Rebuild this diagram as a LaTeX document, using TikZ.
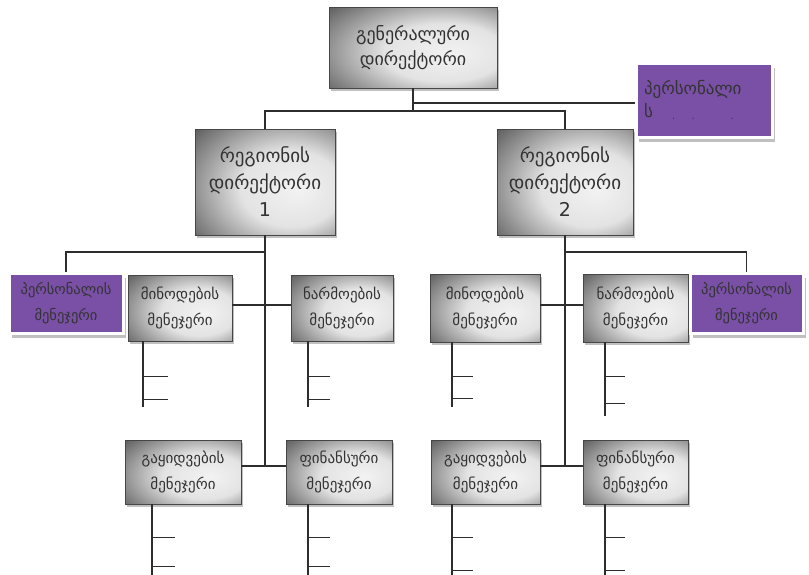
\documentclass[tikz,border=0pt]{standalone}
\usepackage{fontspec}
\setmainfont{DejaVu Sans}
\usetikzlibrary{shadows}
\definecolor{boxpurple}{RGB}{121,80,166}
\definecolor{linegray}{RGB}{45,45,45}
\definecolor{txtgray}{RGB}{50,50,50}
% soft metallic fill: light towards the right, dark at the corners
\pgfdeclareradialshading{metal}{\pgfpoint{12bp}{-4bp}}{%
  color(0bp)=(gray!10);
  color(18bp)=(gray!22);
  color(42bp)=(gray!55!black!90);
  color(62bp)=(gray!68!black);
  color(80bp)=(gray!72!black)}
\begin{document}
\begin{tikzpicture}[x=1pt,y=-1pt,
  conn/.style={draw=linegray,line width=1.8pt},
  graybox/.style={rectangle,draw=gray!55!black,line width=0.8pt,
    shading=metal,
    text=txtgray,align=center,inner sep=2pt,
    drop shadow={shadow xshift=2pt,shadow yshift=-3pt,fill=gray!55,opacity=0.9}},
  toptxt/.style={font=\fontsize{18}{25}\selectfont},
  bigtxt/.style={font=\fontsize{19}{27}\selectfont},
  smalltxt/.style={font=\fontsize{15}{26}\selectfont},
  purplebox/.style={rectangle,fill=boxpurple,draw=white,line width=3pt,
    text=black!80,align=center,inner sep=2pt,
    drop shadow={shadow xshift=3pt,shadow yshift=-5pt,fill=gray!55,opacity=0.9}}]
\useasboundingbox (0,0) rectangle (809,574);

% top level
\node[graybox,toptxt,minimum width=168pt,minimum height=81pt] (gd) at (413,47.5)
  {გენერალური\\დირექტორი};
\node[purplebox,minimum width=134pt,minimum height=74pt,
  align=left,anchor=north west,text width=120pt,inner xsep=8pt,inner ysep=8pt] (pers) at (634.5,61.5)
  {\fontsize{17}{23}\selectfont პერსონალი\\ს\\[-10pt]
   \fontsize{9}{9}\selectfont\hspace*{28pt}.\hspace{17pt}.\hspace{36pt}.};

% regional directors
\node[graybox,bigtxt,minimum width=140pt,minimum height=106pt] (r1) at (265,182)
  {რეგიონის\\დირექტორი\\1};
\node[graybox,bigtxt,minimum width=136pt,minimum height=106pt] (r2) at (565,182)
  {რეგიონის\\დირექტორი\\2};

% second row
\node[purplebox,font=\fontsize{14.5}{26}\selectfont,minimum width=114pt,minimum height=60pt] (p1) at (66,303)
  {პერსონალის\\მენეჯერი};
\node[graybox,smalltxt,minimum width=104pt,minimum height=66pt] (mn1) at (180,308)
  {მინოდების\\მენეჯერი};
\node[graybox,smalltxt,minimum width=102pt,minimum height=66pt] (nr1) at (342,308)
  {ნარმოების\\მენეჯერი};
\node[graybox,smalltxt,minimum width=110pt,minimum height=68pt] (mn2) at (485,308)
  {მინოდების\\მენეჯერი};
\node[graybox,smalltxt,minimum width=105pt,minimum height=68pt] (nr2) at (635.5,308)
  {ნარმოების\\მენეჯერი};
\node[purplebox,font=\fontsize{14.5}{26}\selectfont,minimum width=113pt,minimum height=60pt] (p2) at (746.5,303)
  {პერსონალის\\მენეჯერი};

% third row
\node[graybox,smalltxt,minimum width=116pt,minimum height=64pt] (gq1) at (183,472)
  {გაყიდვების\\მენეჯერი};
\node[graybox,smalltxt,minimum width=106pt,minimum height=64pt] (fn1) at (339,472)
  {ფინანსური\\მენეჯერი};
\node[graybox,smalltxt,minimum width=109pt,minimum height=64pt] (gq2) at (485.5,472)
  {გაყიდვების\\მენეჯერი};
\node[graybox,smalltxt,minimum width=105pt,minimum height=64pt] (fn2) at (635.5,472)
  {ფინანსური\\მენეჯერი};

% junction points
\coordinate (j0) at (413,111);
\coordinate (b1) at (265,252);
\coordinate (b2) at (565,252);
\coordinate (k1) at (265,466);
\coordinate (k2) at (565,466);

% top connectors
\draw[conn] (gd.south) -- (j0);
\draw[conn] (r1.north) |- (j0) -| (r2.north);
\draw[conn] ([yshift=-3pt]pers.west) -- ([yshift=-3pt]pers.west -| gd.south);

% regional trunks
\draw[conn] (r1.south) -- (k1);
\draw[conn] (r2.south) -- (k2);
\draw[conn] (p1.north) |- (b1);
\draw[conn] (p2.north) |- (b2);
\draw[conn] ([yshift=3pt]mn1.east) -- ([yshift=3pt]nr1.west);
\draw[conn] ([yshift=3pt]mn2.east) -- ([yshift=3pt]nr2.west);
\draw[conn] ([yshift=6pt]gq1.east) -- ([yshift=6pt]fn1.west);
\draw[conn] ([yshift=6pt]gq2.east) -- ([yshift=6pt]fn2.west);

% sub-branches under the managers
\draw[conn] ([xshift=15pt]mn1.south west) -- ++(0,66);
\draw[conn] ([xshift=15pt]mn1.south west) ++(0,35) -- ++(25,0) ++(-25,23) -- ++(25,0);
\draw[conn] ([xshift=17pt]nr1.south west) -- ++(0,66);
\draw[conn] ([xshift=17pt]nr1.south west) ++(0,35) -- ++(22,0) ++(-22,23) -- ++(22,0);
\draw[conn] ([xshift=22pt]mn2.south west) -- ++(0,65);
\draw[conn] ([xshift=22pt]mn2.south west) ++(0,34) -- ++(21,0) ++(-21,22) -- ++(21,0);
\draw[conn] ([xshift=22pt]nr2.south west) -- ++(0,74);
\draw[conn] ([xshift=22pt]nr2.south west) ++(0,34) -- ++(20,0) ++(-20,27) -- ++(20,0);
\draw[conn] ([xshift=27pt]gq1.south west) -- ++(0,72);
\draw[conn] ([xshift=27pt]gq1.south west) ++(0,33) -- ++(23,0) ++(-23,29) -- ++(23,0);
\draw[conn] ([xshift=22pt]fn1.south west) -- ++(0,72);
\draw[conn] ([xshift=22pt]fn1.south west) ++(0,33) -- ++(22,0) ++(-22,29) -- ++(22,0);
\draw[conn] ([xshift=21pt]gq2.south west) -- ++(0,72);
\draw[conn] ([xshift=21pt]gq2.south west) ++(0,33) -- ++(21,0) ++(-21,33) -- ++(21,0);
\draw[conn] ([xshift=22pt]fn2.south west) -- ++(0,72);
\draw[conn] ([xshift=22pt]fn2.south west) ++(0,33) -- ++(20,0) ++(-20,33) -- ++(20,0);
\end{tikzpicture}
\end{document}
